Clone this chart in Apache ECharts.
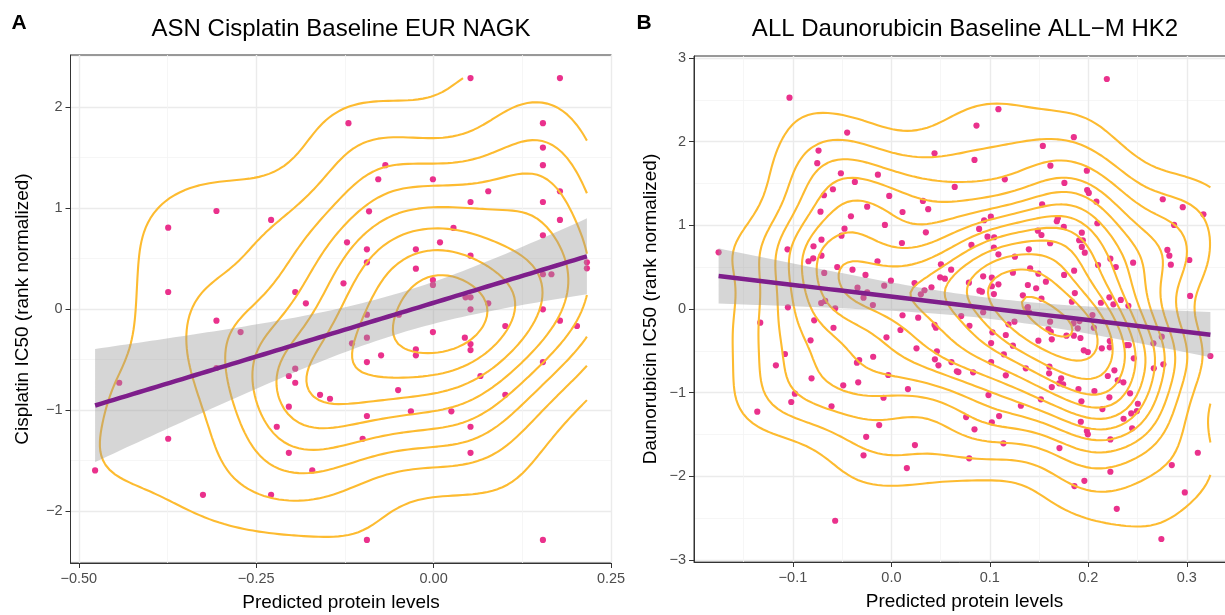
<!DOCTYPE html>
<html><head><meta charset="utf-8">
<script src="https://cdn.jsdelivr.net/npm/echarts@6/dist/echarts.min.js"></script>
<style>html,body{margin:0;padding:0;background:#fff}#c{width:1225px;height:615px}</style>
</head><body><div id="c"></div>
<script>
// ---------------- DATA ----------------
const A_TITLE = 'ASN Cisplatin Baseline EUR NAGK';
const B_TITLE = 'ALL Daunorubicin Baseline ALL\u2212M HK2';
const X_NAME = 'Predicted protein levels';
const A_YNAME = 'Cisplatin IC50 (rank normalized)';
const B_YNAME = 'Daunorubicin IC50 (rank normalized)';

const A_X_TICKS = [-0.5, -0.25, 0, 0.25];
const A_X_LABELS = ['\u22120.50', '\u22120.25', '0.00', '0.25'];
const A_X_MINOR = [-0.375, -0.125, 0.125];
const A_Y_TICKS = [-2, -1, 0, 1, 2];
const A_Y_LABELS = ['\u22122', '\u22121', '0', '1', '2'];
const A_Y_MINOR = [-2.5, -1.5, -0.5, 0.5, 1.5, 2.5];

const B_X_TICKS = [-0.1, 0, 0.1, 0.2, 0.3];
const B_X_LABELS = ['\u22120.1', '0.0', '0.1', '0.2', '0.3'];
const B_X_MINOR = [-0.15, -0.05, 0.05, 0.15, 0.25];
const B_Y_TICKS = [-3, -2, -1, 0, 1, 2, 3];
const B_Y_LABELS = ['\u22123', '\u22122', '\u22121', '0', '1', '2', '3'];
const B_Y_MINOR = [-2.5, -1.5, -0.5, 0.5, 1.5, 2.5];

// [predicted protein level, IC50 rank normalized]
const A_POINTS = [
[-0.120,1.839],[-0.374,0.805],[-0.306,0.970],[-0.229,0.881],[-0.122,0.660],[-0.127,0.254],[-0.374,0.168],[-0.195,0.168],[-0.180,0.056],
[0.052,2.285],[0.178,2.285],[0.154,1.839],[0.154,1.597],[-0.068,1.423],[0.154,1.423],[-0.078,1.284],[-0.001,1.284],[0.178,1.165],[0.077,1.165],
[0.052,1.059],[0.154,1.059],[-0.091,0.967],[0.178,0.881],[0.028,0.802],[0.154,0.730],[0.009,0.660],[-0.094,0.591],[-0.025,0.591],[0.052,0.528],
[-0.094,0.462],[0.216,0.462],[0.216,0.403],[-0.025,0.399],[0.154,0.344],[0.166,0.344],[-0.001,0.287],[-0.001,0.238],[0.045,0.116],[0.052,0.116],
[0.077,0.056],[0.052,-0.003],[-0.094,-0.056],[-0.049,-0.056],[0.154,-0.003],[0.178,-0.116],[0.202,-0.168],[0.101,-0.168],[-0.001,-0.228],
[0.044,-0.284],[-0.094,-0.284],[-0.115,-0.340],[0.052,-0.347],[0.052,-0.406],[-0.025,-0.399],[-0.025,-0.458],[-0.074,-0.458],[-0.094,-0.525],
[0.154,-0.525],[0.066,-0.663],[-0.050,-0.802],[-0.160,-0.849],[-0.146,-0.888],[0.101,-0.849],[-0.094,-1.059],[-0.032,-1.013],[0.025,-1.013],
[0.052,-1.165],[-0.100,-1.284],[0.052,-1.423],[-0.094,-2.285],[0.154,-2.285],
[-0.306,-0.116],[-0.272,-0.228],[-0.306,-0.584],[-0.195,-0.591],[-0.204,-0.663],[-0.195,-0.730],[-0.443,-0.730],[-0.204,-0.967],[-0.221,-1.165],
[-0.374,-1.284],[-0.204,-1.423],[-0.477,-1.597],[-0.171,-1.597],[-0.325,-1.839],[-0.229,-1.839]
];

const B_POINTS = [
[-0.1035,2.527],[-0.0449,2.109],[-0.0740,1.894],[0.0438,1.862],[-0.0753,1.743],[-0.0513,1.623],[-0.0137,1.606],[-0.0371,1.519],[0.0643,1.459],
[-0.0594,1.432],[-0.0685,1.360],[-0.0022,1.352],[0.0320,1.292],[0.0374,1.193],[-0.0246,1.224],[-0.0720,1.164],[0.0113,1.160],[-0.0411,1.109],
[-0.0066,1.005],[-0.0476,0.961],[-0.0507,0.877],[0.0350,0.917],[-0.0710,0.829],[0.0107,0.789],[-0.0791,0.750],[-0.1055,0.714],[-0.1755,0.678],
[-0.0710,0.638],[-0.0794,0.606],[-0.0842,0.571],[-0.0141,0.571],[0.0503,0.535],[-0.0550,0.502],[0.0607,0.470],[-0.0395,0.470],[-0.0682,0.431],
[-0.0263,0.407],[0.0495,0.379],[0.0543,0.362],[-0.0005,0.339],[0.0235,0.311],[-0.0073,0.279],[-0.0344,0.255],[0.0407,0.260],[0.0336,0.224],
[-0.0246,0.200],[0.0299,0.176],[-0.0283,0.135],[-0.0672,0.096],[-0.0713,0.072],[-0.0188,0.048],[-0.1051,0.020],[-0.0571,0.008],
[0.2188,2.750],[0.1087,2.389],[0.0864,2.193],[0.1853,2.054],[0.1538,1.950],[0.0844,1.782],[0.1615,1.714],[0.1985,1.654],[0.1152,1.551],
[0.1757,1.507],[0.1988,1.423],[0.2005,1.388],[0.2082,1.283],[0.1531,1.252],[0.2756,1.312],[0.2959,1.217],[0.3169,1.133],[0.1010,1.104],
[0.0942,1.061],[0.0891,0.957],[0.1690,1.085],[0.1680,1.049],[0.2092,1.025],[0.2871,1.005],[0.1751,0.981],[0.1487,0.937],[0.1524,0.885],
[0.1934,0.913],[0.0976,0.865],[0.1044,0.858],[0.1907,0.822],[0.1944,0.822],[0.1612,0.786],[0.0813,0.766],[0.1041,0.733],[0.1934,0.742],
[0.1964,0.673],[0.1396,0.714],[0.2803,0.706],[0.2823,0.638],[0.2838,0.530],[0.1087,0.654],[0.1254,0.626],[0.2224,0.602],[0.3026,0.586],
[0.2455,0.554],[0.2099,0.526],[0.2279,0.502],[0.1409,0.487],[0.1856,0.458],[0.1234,0.434],[0.1493,0.422],[0.0932,0.391],[0.1020,0.374],
[0.1754,0.407],[0.0787,0.315],[0.1569,0.327],[0.1087,0.295],[0.1020,0.272],[0.1386,0.287],[0.1470,0.248],[0.0894,0.219],[0.0919,0.207],
[0.1041,0.179],[0.1863,0.191],[0.1335,0.164],[0.1524,0.123],[0.2214,0.140],[0.3034,0.156],[0.1833,0.087],[0.2128,0.075],[0.2330,0.108],
[0.2255,0.056],[0.2407,0.039],[0.1386,0.024],
[-0.1332,-0.164],[-0.0784,-0.135],[-0.0588,-0.224],[0.0113,-0.075],[0.0272,-0.104],[0.0092,-0.251],[0.0438,-0.191],[0.0452,-0.224],
[-0.0050,-0.339],[-0.0821,-0.374],[0.0255,-0.470],[0.0462,-0.506],[-0.1081,-0.538],[-0.0185,-0.571],[-0.0327,-0.610],[-0.0350,-0.642],
[0.0442,-0.602],[0.0478,-0.673],[0.0610,-0.634],[0.0681,-0.754],[-0.1173,-0.673],[-0.0032,-0.789],[-0.0811,-0.829],[-0.0337,-0.877],
[-0.0489,-0.913],[0.0168,-0.957],[-0.0980,-1.013],[-0.0080,-1.061],[-0.1017,-1.112],[-0.0608,-1.164],[-0.1362,-1.228],[-0.0124,-1.388],
[-0.0256,-1.528],[0.0239,-1.627],[-0.0283,-1.750],[0.0157,-1.902],[-0.0571,-2.532],
[0.0709,-0.084],[0.0793,-0.200],[0.0932,-0.039],[0.1026,-0.279],[0.1013,-0.407],[0.1162,-0.311],[0.1189,-0.183],[0.1250,-0.152],
[0.1234,-0.439],[0.1142,-0.542],[0.1013,-0.634],[0.0665,-0.745],[0.0830,-0.757],[0.1162,-0.793],[0.1365,-0.709],[0.1379,0.008],
[0.1399,-0.039],[0.1612,-0.152],[0.1595,-0.239],[0.1619,-0.272],[0.1493,-0.379],[0.1629,-0.362],[0.1778,-0.319],[0.1853,-0.319],
[0.1920,-0.347],[0.1893,-0.231],[0.2056,-0.224],[0.2042,-0.072],[0.1954,-0.494],[0.1995,-0.514],[0.2137,-0.470],[0.2218,-0.383],
[0.2218,-0.458],[0.2387,-0.431],[0.2411,-0.431],[0.2661,-0.410],[0.2746,-0.331],[0.2462,-0.590],[0.3240,-0.562],[0.2665,-0.709],
[0.2762,-0.661],[0.1605,-0.690],[0.1602,-0.769],[0.1724,-0.829],[0.1744,-0.901],[0.1704,-0.889],[0.1629,-0.933],[0.1900,-0.957],
[0.2062,-0.981],[0.2198,-0.801],[0.2265,-0.733],[0.2299,-0.853],[0.2356,-0.877],[0.2214,-1.056],[0.2424,-1.008],[0.0986,-1.029],
[0.1315,-1.157],[0.1518,-1.080],[0.1930,-1.104],[0.2143,-1.196],[0.2503,-1.133],[0.2493,-1.220],[0.2436,-1.248],[0.2358,-1.312],
[0.0759,-1.292],[0.1094,-1.280],[0.1020,-1.355],[0.1924,-1.348],[0.0844,-1.439],[0.1985,-1.459],[0.1995,-1.499],[0.2445,-1.427],
[0.2224,-1.559],[0.1138,-1.606],[0.1707,-1.663],[0.0790,-1.786],[0.3112,-1.719],[0.2848,-1.866],[0.2224,-1.946],[0.1960,-2.054],
[0.1859,-2.117],[0.2980,-2.193],[0.2289,-2.389],[0.2742,-2.750],[0.1849,-0.171],[0.1910,-0.144]
];

// ---------------- STAT HELPERS (same transforms ggplot applies) ----------------
function q7(v, p){ const s=[...v].sort((a,b)=>a-b); const h=(s.length-1)*p; const lo=Math.floor(h); const hi=Math.min(lo+1,s.length-1); return s[lo]+(h-lo)*(s[hi]-s[lo]); }
function bwNrd(v){ const n=v.length; const m=v.reduce((a,b)=>a+b,0)/n; const sd=Math.sqrt(v.reduce((a,b)=>a+(b-m)*(b-m),0)/(n-1)); const r=(q7(v,.75)-q7(v,.25))/1.34; return 4*1.06*Math.min(sd,r)*Math.pow(n,-0.2); }
function dnorm(u){ return Math.exp(-0.5*u*u)/Math.sqrt(2*Math.PI); }
function lin(a,b,n){ const o=[]; for(let i=0;i<n;i++) o.push(a+(b-a)*i/(n-1)); return o; }
function kde2d(xs, ys, N, lx, ly){
  const n=xs.length, hx=bwNrd(xs)/4, hy=bwNrd(ys)/4;
  const gx=lin(lx[0],lx[1],N), gy=lin(ly[0],ly[1],N);
  const ax=gx.map(g=>xs.map(x=>dnorm((g-x)/hx)));
  const ay=gy.map(g=>ys.map(y=>dnorm((g-y)/hy)));
  const z=[];
  for(let i=0;i<N;i++){ const row=[]; for(let j=0;j<N;j++){ let s=0; for(let k=0;k<n;k++) s+=ax[i][k]*ay[j][k]; row.push(s/(n*hx*hy)); } z.push(row); }
  return {gx,gy,z};
}
function rPretty(lo, hi, ndiv){
  const h=1.5, h5=0.5+1.5*h; const cell=(hi-lo)/ndiv;
  const base=Math.pow(10, Math.floor(Math.log10(cell))); let unit=base;
  if (2*base-cell < h*(cell-unit)) { unit=2*base; if (5*base-cell < h5*(cell-unit)) { unit=5*base; if (10*base-cell < h*(cell-unit)) unit=10*base; } }
  const ns=Math.floor(lo/unit+1e-7), nu=Math.ceil(hi/unit-1e-7); const out=[];
  for(let k=ns;k<=nu;k++) out.push(k*unit); return out;
}
function contourLines(gx, gy, z, level){
  const N=gx.length, M=gy.length, pts=new Map(), segs=[];
  const pH=(i,j)=>{ const k='h'+i+'_'+j; if(!pts.has(k)){ const a=z[i][j], b=z[i+1][j], t=(level-a)/(b-a); pts.set(k,[gx[i]+t*(gx[i+1]-gx[i]), gy[j]]); } return k; };
  const pV=(i,j)=>{ const k='v'+i+'_'+j; if(!pts.has(k)){ const a=z[i][j], b=z[i][j+1], t=(level-a)/(b-a); pts.set(k,[gx[i], gy[j]+t*(gy[j+1]-gy[j])]); } return k; };
  for(let i=0;i<N-1;i++) for(let j=0;j<M-1;j++){
    const v0=z[i][j], v1=z[i+1][j], v2=z[i+1][j+1], v3=z[i][j+1];
    const c=(v0>=level?1:0)|(v1>=level?2:0)|(v2>=level?4:0)|(v3>=level?8:0);
    if(c===0||c===15) continue;
    const B=()=>pH(i,j), R=()=>pV(i+1,j), T=()=>pH(i,j+1), L=()=>pV(i,j);
    switch(c){
      case 1: case 14: segs.push([B(),L()]); break;
      case 2: case 13: segs.push([B(),R()]); break;
      case 3: case 12: segs.push([L(),R()]); break;
      case 4: case 11: segs.push([R(),T()]); break;
      case 6: case 9: segs.push([B(),T()]); break;
      case 7: case 8: segs.push([L(),T()]); break;
      case 5: { const m=(v0+v1+v2+v3)/4; if(m>=level){ segs.push([B(),R()]); segs.push([T(),L()]); } else { segs.push([B(),L()]); segs.push([R(),T()]); } break; }
      case 10: { const m=(v0+v1+v2+v3)/4; if(m>=level){ segs.push([B(),L()]); segs.push([R(),T()]); } else { segs.push([B(),R()]); segs.push([T(),L()]); } break; }
    }
  }
  const adj=new Map();
  segs.forEach((s,idx)=>{ for(const k of s){ if(!adj.has(k)) adj.set(k,[]); adj.get(k).push(idx); } });
  const used=new Array(segs.length).fill(false), lines=[];
  const walk=(seg,key)=>{ const path=[pts.get(key)];
    while(seg!==-1 && !used[seg]){ used[seg]=true; const s=segs[seg]; const nk=s[0]===key?s[1]:s[0]; path.push(pts.get(nk)); key=nk;
      seg=-1; for(const o of adj.get(key)){ if(!used[o]){ seg=o; break; } } }
    return path; };
  for(const [k,l] of adj){ if(l.length===1 && !used[l[0]]) lines.push(walk(l[0],k)); }
  for(let s=0;s<segs.length;s++) if(!used[s]) lines.push(walk(s,segs[s][0]));
  return lines;
}
function tq975(df){ const z=1.959964; return z+(z*z*z+z)/(4*df)+(5*Math.pow(z,5)+16*z*z*z+3*z)/(96*df*df); }
function buildPanel(points){
  const xs=points.map(p=>p[0]), ys=points.map(p=>p[1]), n=xs.length;
  const xr=[Math.min(...xs),Math.max(...xs)], yr=[Math.min(...ys),Math.max(...ys)];
  const {gx,gy,z}=kde2d(xs,ys,100,xr,yr);
  let zmin=Infinity,zmax=-Infinity; z.forEach(r=>r.forEach(v=>{ if(v<zmin)zmin=v; if(v>zmax)zmax=v; }));
  const lines=[]; rPretty(zmin,zmax,10).forEach(b=>{ contourLines(gx,gy,z,b).forEach(l=>{ if(l.length>1) lines.push(l); }); });
  const mx=xs.reduce((a,b)=>a+b,0)/n, my=ys.reduce((a,b)=>a+b,0)/n;
  let sxx=0,sxy=0; for(let i=0;i<n;i++){ sxx+=(xs[i]-mx)**2; sxy+=(xs[i]-mx)*(ys[i]-my); }
  const b=sxy/sxx, a=my-b*mx; let rss=0; for(let i=0;i<n;i++) rss+=(ys[i]-a-b*xs[i])**2;
  const s=Math.sqrt(rss/(n-2)), t=tq975(n-2);
  const fit=[], upper=[], lower=[];
  lin(xr[0],xr[1],80).forEach(x=>{ const f=a+b*x, se=s*Math.sqrt(1/n+(x-mx)**2/sxx); fit.push([x,f]); upper.push([x,f+t*se]); lower.push([x,f-t*se]); });
  const ex=0.05*(xr[1]-xr[0]), ey=0.05*(yr[1]-yr[0]);
  return {points, lines, fit, upper, lower, xlim:[xr[0]-ex,xr[1]+ex], ylim:[yr[0]-ey,yr[1]+ey]};
}

// ---------------- CHART ----------------
const FONT='"Liberation Sans", Arial, sans-serif';
const PA=buildPanel(A_POINTS), PB=buildPanel(B_POINTS);
const grids=[
  {left:70.5, top:55, width:541, height:508, show:true, borderColor:'#333', borderWidth:1, backgroundColor:'transparent', containLabel:false, outerBoundsMode:'none'},
  {left:694, top:56, width:541, height:506, show:true, borderColor:'#333', borderWidth:1, backgroundColor:'transparent', containLabel:false, outerBoundsMode:'none'}
];
function lbl(ticks, labels){ return v=>{ const i=ticks.findIndex(t=>Math.abs(t-v)<1e-9); return i>=0?labels[i]:''; }; }
function majorAxis(gi, lim, ticks, labels, name, gap){
  return {type:'value', gridIndex:gi, min:lim[0], max:lim[1], name:name, nameLocation:'middle', nameGap:gap,
    nameTextStyle:{fontSize:19, color:'#000', fontFamily:FONT},
    axisLine:{show:true, onZero:false, lineStyle:{color:'#333', width:1}},
    axisTick:{show:true, length:5, lineStyle:{color:'#333', width:1}, customValues:ticks},
    axisLabel:{show:true, customValues:ticks, formatter:lbl(ticks,labels), color:'#4d4d4d', fontSize:14.5, margin:8, fontFamily:FONT},
    splitLine:{show:true, lineStyle:{color:'#ebebeb', width:1.4}}};
}
function minorAxis(gi, lim, minors){
  return {type:'value', gridIndex:gi, min:lim[0], max:lim[1], axisLine:{show:false}, axisTick:{show:false, customValues:minors},
    axisLabel:{show:false}, splitLine:{show:true, lineStyle:{color:'#f4f4f4', width:0.8}}};
}
const xAxes=[majorAxis(0,PA.xlim,A_X_TICKS,A_X_LABELS,X_NAME,30), minorAxis(0,PA.xlim,A_X_MINOR),
             majorAxis(1,PB.xlim,B_X_TICKS,B_X_LABELS,X_NAME,30), minorAxis(1,PB.xlim,B_X_MINOR)];
const yAxes=[majorAxis(0,PA.ylim,A_Y_TICKS,A_Y_LABELS,A_YNAME,38), minorAxis(0,PA.ylim,A_Y_MINOR),
             majorAxis(1,PB.ylim,B_Y_TICKS,B_Y_LABELS,B_YNAME,34), minorAxis(1,PB.ylim,B_Y_MINOR)];

function panelSeries(P, ai){
  const band=P.upper.concat(P.lower.slice().reverse());
  return [
    {type:'scatter', xAxisIndex:ai, yAxisIndex:ai, data:P.points, symbolSize:6.2, itemStyle:{color:'#EA318C', opacity:1}, z:2, silent:true},
    {type:'lines', coordinateSystem:'cartesian2d', xAxisIndex:ai, yAxisIndex:ai, polyline:true, z:3, silent:true,
      data:P.lines.map(c=>({coords:c})), lineStyle:{color:'#FDBB30', width:2.1, opacity:1}},
    {type:'custom', xAxisIndex:ai, yAxisIndex:ai, z:4, silent:true, data:[P.fit[40]],
      renderItem:(params, api)=>({type:'polygon', shape:{points:band.map(p=>api.coord(p))}, style:{fill:'rgba(153,153,153,0.4)'}})},
    {type:'line', xAxisIndex:ai, yAxisIndex:ai, data:P.fit, showSymbol:false, z:5, silent:true,
      lineStyle:{color:'#7E1E8B', width:4.5}}
  ];
}
const option={
  animation:false,
  textStyle:{fontFamily:FONT},
  grid:grids, xAxis:xAxes, yAxis:yAxes,
  series:panelSeries(PA,0).concat(panelSeries(PB,2)),
  graphic:[
    {type:'text', x:341, y:29, style:{text:A_TITLE, font:'24px '+FONT, fill:'#000', align:'center', verticalAlign:'middle', textAlign:'center', textVerticalAlign:'middle'}},
    {type:'text', x:965, y:29, style:{text:B_TITLE, font:'24px '+FONT, fill:'#000', align:'center', verticalAlign:'middle', textAlign:'center', textVerticalAlign:'middle'}},
    {type:'text', x:19, y:23, style:{text:'A', font:'bold 21px '+FONT, fill:'#000', align:'center', verticalAlign:'middle', textAlign:'center', textVerticalAlign:'middle'}},
    {type:'text', x:644, y:23, style:{text:'B', font:'bold 21px '+FONT, fill:'#000', align:'center', verticalAlign:'middle', textAlign:'center', textVerticalAlign:'middle'}}
  ]
};
const chart=echarts.init(document.getElementById('c'), null, {renderer:'canvas'});
chart.setOption(option);
</script></body></html>
